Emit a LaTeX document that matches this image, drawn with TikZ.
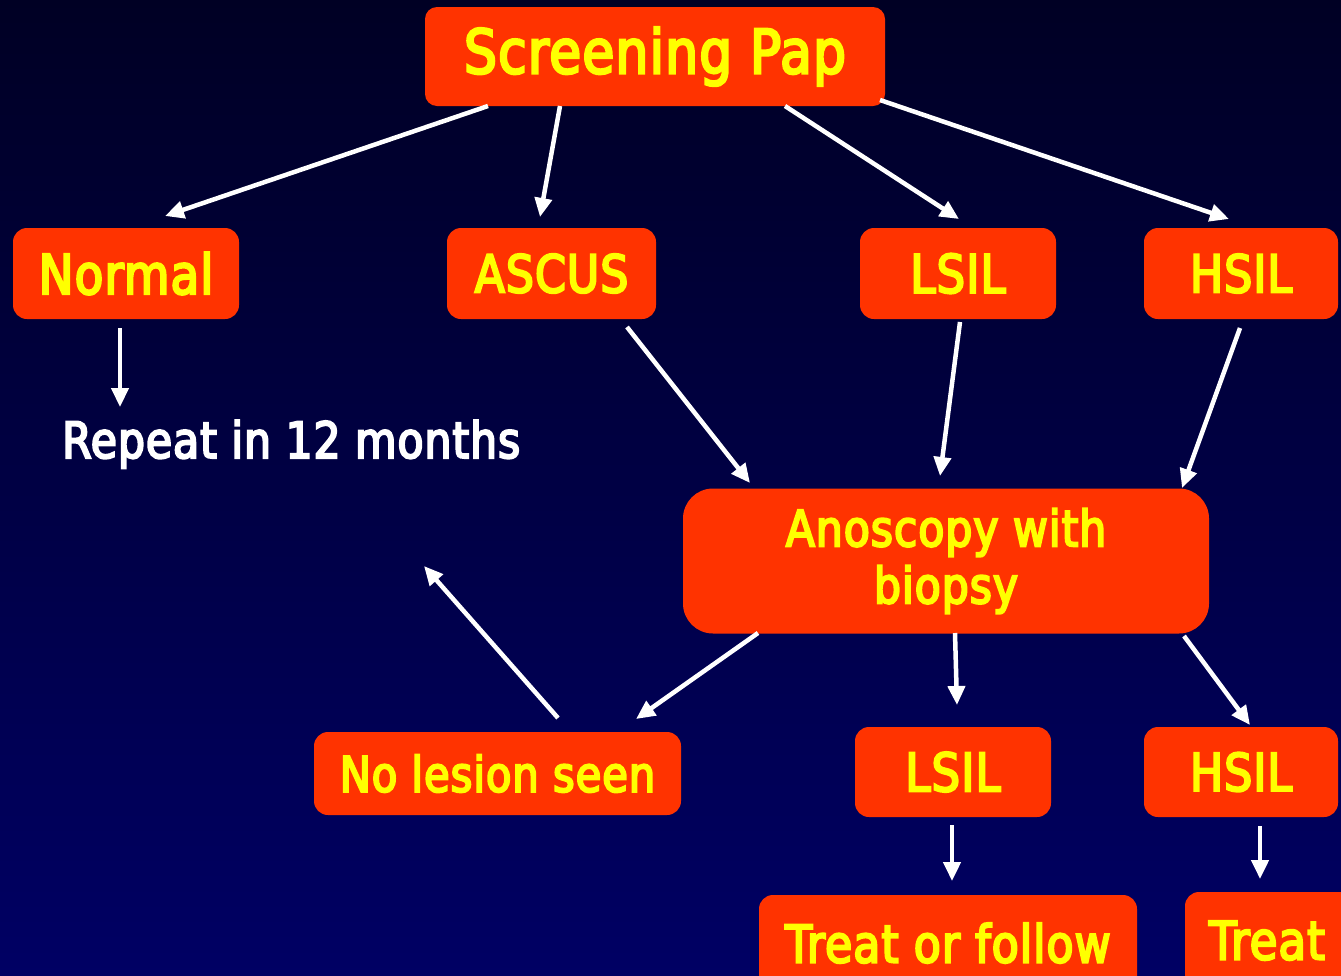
\documentclass[tikz,border=0pt]{standalone}
\usepackage{fontspec}
\newfontfamily\tah{DejaVu Sans}[FakeStretch=0.85,FakeBold=4,LetterSpace=2]
\usetikzlibrary{arrows.meta}
\definecolor{boxred}{RGB}{255,51,0}
\definecolor{boxyellow}{RGB}{255,255,0}
\definecolor{bgtop}{RGB}{0,0,36}
\definecolor{bgbot}{RGB}{0,0,100}
\newcommand{\fs}[1]{\tah\fontsize{#1}{#1}\selectfont}
\tikzset{
  box/.style={fill=boxred, rounded corners=14pt, inner sep=0pt, text=boxyellow, align=center},
  arr/.style={draw=white, line width=4.5pt, -{Triangle[length=19pt,width=17pt]}},
}
\begin{document}
\begin{tikzpicture}[x=1pt,y=-1pt]
\useasboundingbox (0,0) rectangle (1341,975);
\clip (0,0) rectangle (1341,975);
\shade[top color=bgtop, bottom color=bgbot] (0,0) rectangle (1341,975);

% boxes
\node[box, minimum width=460pt, minimum height=99pt, rounded corners=12pt, font=\fs{61}] (pap) at (655,56.5) {\raisebox{-5pt}{Screening Pap}};
\node[box, minimum width=226pt, minimum height=91pt, font=\fs{55}] (normal) at (126,273.5) {Normal};
\node[box, minimum width=209pt, minimum height=91pt, font=\fs{52}] (ascus) at (551.5,273.5) {ASCUS};
\node[box, minimum width=196pt, minimum height=91pt, font=\fs{53}] (lsil) at (958,273.5) {LSIL};
\node[box, minimum width=194pt, minimum height=91pt, font=\fs{52}] (hsil) at (1241,273.5) {HSIL};
\node[text=white, font=\fs{50}, anchor=base west, inner sep=0pt] (repeat) at (62,458) {Repeat in 12 months};
\node[box, minimum width=526pt, minimum height=145pt, rounded corners=30pt, font={\fs{50}\baselineskip=57pt}] (anos) at (946,561) {Anoscopy with\\biopsy};
\node[box, minimum width=367pt, minimum height=83pt, font=\fs{49}] (nolesion) at (497.5,773.5) {No lesion seen};
\node[box, minimum width=196pt, minimum height=90pt, font=\fs{53}] (lsilb) at (953,772) {LSIL};
\node[box, minimum width=194pt, minimum height=90pt, font=\fs{52}] (hsilb) at (1241,772) {HSIL};
\node[box, minimum width=378pt, minimum height=110pt, font=\fs{52}, text depth=30pt, text height=55pt] (treatf) at (948,950) {Treat or follow};
\node[box, minimum width=200pt, minimum height=110pt, font=\fs{53}, text depth=30pt, text height=55pt] (treat) at (1285,947) {\hspace*{-36pt}Treat};

% arrow endpoints
\coordinate (p1) at (488,106); \coordinate (n1) at (165,216);
\coordinate (p2) at (560,106); \coordinate (a1) at (540,217);
\coordinate (p3) at (785,106); \coordinate (l1) at (959,219);
\coordinate (p4) at (880,100); \coordinate (h1) at (1229,219);
\coordinate (n2) at (120,328); \coordinate (r1) at (120,407);
\coordinate (a2) at (627,327); \coordinate (an1) at (750,483);
\coordinate (l2) at (960,322); \coordinate (an2) at (940,476);
\coordinate (h2) at (1240,328); \coordinate (an3) at (1182,488);
\coordinate (an4) at (758,633); \coordinate (nl1) at (636,719);
\coordinate (an5) at (955,633); \coordinate (lb1) at (957,705);
\coordinate (an6) at (1184,636); \coordinate (hb1) at (1250,725);
\coordinate (nl2) at (558,718); \coordinate (up) at (424,566);
\coordinate (lb2) at (952,825); \coordinate (tf1) at (952,881);
\coordinate (hb2) at (1260,826); \coordinate (t1) at (1260,879);

\draw[arr] (p1) -- (n1);
\draw[arr] (p2) -- (a1);
\draw[arr] (p3) -- (l1);
\draw[arr] (p4) -- (h1);
\draw[arr] (n2) -- (r1);
\draw[arr] (a2) -- (an1);
\draw[arr] (l2) -- (an2);
\draw[arr] (h2) -- (an3);
\draw[arr] (an4) -- (nl1);
\draw[arr] (an5) -- (lb1);
\draw[arr] (an6) -- (hb1);
\draw[arr] (nl2) -- (up);
\draw[arr] (lb2) -- (tf1);
\draw[arr] (hb2) -- (t1);
\end{tikzpicture}
\end{document}
